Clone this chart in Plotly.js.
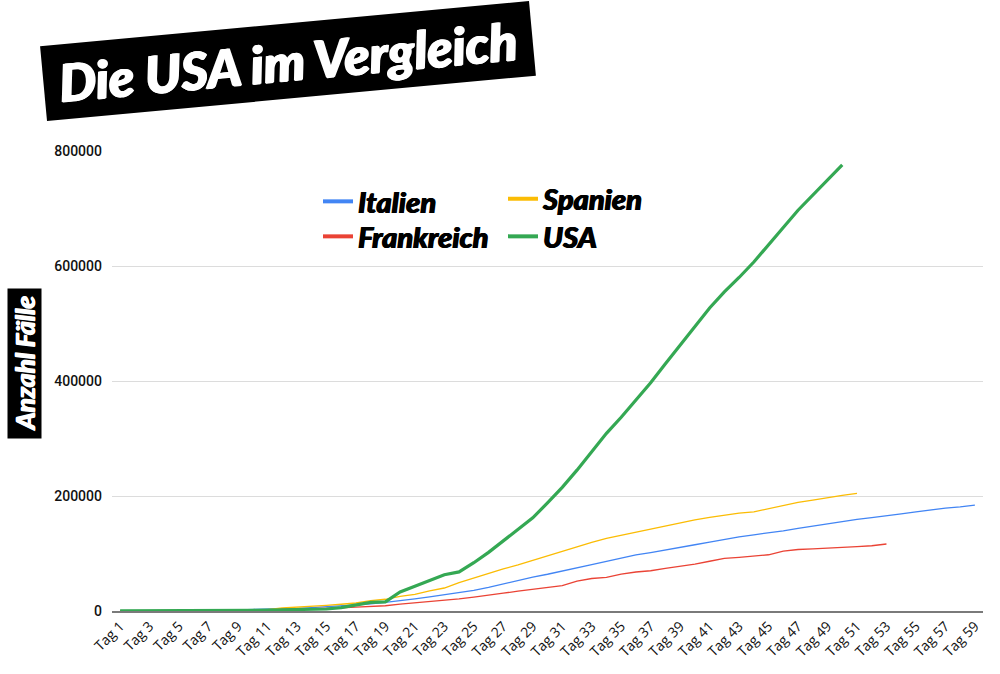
<!DOCTYPE html>
<html>
<head>
<meta charset="utf-8">
<script src="https://cdn.plot.ly/plotly-3.0.1.min.js"></script>
<style>
html,body{margin:0;padding:0;background:#fff;}
#chart{width:1000px;height:674px;}
</style>
</head>
<body>
<div id="chart"></div>
<script>
const days = ["Tag 1","Tag 2","Tag 3","Tag 4","Tag 5","Tag 6","Tag 7","Tag 8","Tag 9","Tag 10",
"Tag 11","Tag 12","Tag 13","Tag 14","Tag 15","Tag 16","Tag 17","Tag 18","Tag 19","Tag 20",
"Tag 21","Tag 22","Tag 23","Tag 24","Tag 25","Tag 26","Tag 27","Tag 28","Tag 29","Tag 30",
"Tag 31","Tag 32","Tag 33","Tag 34","Tag 35","Tag 36","Tag 37","Tag 38","Tag 39","Tag 40",
"Tag 41","Tag 42","Tag 43","Tag 44","Tag 45","Tag 46","Tag 47","Tag 48","Tag 49","Tag 50",
"Tag 51","Tag 52","Tag 53","Tag 54","Tag 55","Tag 56","Tag 57","Tag 58","Tag 59"];

const italien = [150,230,320,450,650,890,1130,1690,2040,2500,
3090,3860,4640,5880,7380,9170,10150,12460,15110,17660,
21160,24750,28000,31500,35700,41000,47000,53600,59100,63900,
69200,74400,80600,86500,92500,97700,101700,105800,110600,115200,
119800,124600,128900,132500,135600,139400,143600,147600,152300,156400,
159500,162500,165200,168900,172400,175900,179000,181200,184000];

const spanien = [120,165,220,260,400,500,670,1070,1700,2280,
2280,5230,6390,7800,9940,11750,13900,17960,20400,25400,
28800,35100,40000,49500,57800,65700,73200,80100,88000,96000,
104100,112100,119200,126200,131600,136700,141900,148200,153200,158300,
163000,166800,170100,172500,178000,184000,189000,193000,197500,201000,
204500];

const frankreich = [100,130,190,210,290,420,610,720,1130,1410,
1780,2280,2880,3660,4500,5420,6630,7730,9100,12000,
14000,16000,18500,21000,24000,27000,31000,34500,37700,40500,
44000,52000,56500,58600,64000,67800,70000,74000,77500,81500,
86500,91600,93400,95500,97800,104000,107000,108000,109000,110800,
112000,113500,116500];

const usa = [100,120,160,220,320,430,540,700,1000,1300,
1700,2200,2500,3000,3500,6000,10000,15000,16000,33000,
43000,53000,63000,68000,84000,102000,122000,141000,162000,188000,
215000,245000,278000,309000,337000,366000,397000,430000,463000,496000,
527000,555000,580000,607000,636000,667000,697000,724000,750000,776000];

const seriesNames = ["Italien","Spanien","Frankreich","USA"];
const seriesColors = ["#4285F4","#FBBC04","#EA4335","#34A853"];

const thick = 3.2, thin = 1.3;
const dataSeries = [italien, spanien, frankreich, usa];
const legendOf = ["legend","legend2","legend3","legend4"];

const traces = [];
dataSeries.forEach((vals, i) => {
  traces.push({
    type: "scatter", mode: "lines",
    x: days.slice(0, vals.length), y: vals,
    name: seriesNames[i],
    line: {color: seriesColors[i], width: i === 3 ? thick : thin},
    showlegend: false, hoverinfo: "skip"
  });
});
// legend entries (thick samples as in the reference)
dataSeries.forEach((vals, i) => {
  traces.push({
    type: "scatter", mode: "lines",
    x: [null], y: [null],
    name: seriesNames[i],
    line: {color: seriesColors[i], width: 4},
    showlegend: true, legend: legendOf[i], hoverinfo: "skip"
  });
});

const heavy = "Lato, 'Liberation Sans', sans-serif";

const L = 112, R = 17, T = 151, B = 63;
const W = 1000, H = 674;
const pw = W - L - R, ph = H - T - B;
const px2x = p => (p - L) / pw;
const py2y = p => (H - B - p) / ph;

const legendFont = {family: heavy, size: 29, color: "#000", weight: 900, style: "italic",
  shadow: "0.6px 0 0 #000, -0.6px 0 0 #000"};
function mkLegend(px, py) {
  return {
    x: px2x(px), y: py2y(py), xanchor: "left", yanchor: "middle",
    orientation: "v", bgcolor: "rgba(0,0,0,0)", borderwidth: 0,
    itemwidth: 30, tracegroupgap: 0, font: legendFont
  };
}

const layout = {
  width: W, height: H,
  margin: {l: L, r: R, t: T, b: B, pad: 0},
  paper_bgcolor: "#fff", plot_bgcolor: "#fff",
  showlegend: true,
  xaxis: {
    type: "category",
    categoryorder: "array", categoryarray: days,
    range: [-0.55, 58.55],
    tick0: 0, dtick: 2,
    tickangle: -45,
    showgrid: false,
    showline: true, linecolor: "#7a7a7a", linewidth: 1.5,
    ticks: "",
    tickfont: {family: "'Open Sans', 'Noto Sans', sans-serif", size: 14, color: "#111"},
    automargin: false, fixedrange: true
  },
  yaxis: {
    range: [0, 800000],
    tickvals: [0, 200000, 400000, 600000, 800000],
    tickformat: "d",
    showgrid: true, gridcolor: "#dcdcdc", gridwidth: 1,
    zeroline: false, showline: false,
    ticks: "", ticklabelstandoff: 9,
    tickfont: {family: "Roboto, 'Liberation Sans', sans-serif", size: 14, color: "#111", weight: 500},
    automargin: false, fixedrange: true
  },
  legend: mkLegend(318, 201.5),
  legend2: mkLegend(503, 199),
  legend3: mkLegend(318, 236.5),
  legend4: mkLegend(503, 236.5),
  annotations: [
    {
      text: "Die USA im Vergleich",
      xref: "paper", yref: "paper",
      x: px2x(288), y: py2y(61),
      xanchor: "center", yanchor: "middle",
      showarrow: false, textangle: -5.3,
      width: 482, height: 66, borderpad: 4,
      bgcolor: "#000",
      font: {family: heavy, size: 52, color: "#fff", weight: 900, style: "italic",
        shadow: "1px 0 0 #fff, -1px 0 0 #fff, 0 0.6px 0 #fff"}
    },
    {
      text: "Anzahl Fälle",
      xref: "paper", yref: "paper",
      x: px2x(24), y: py2y(364),
      xanchor: "center", yanchor: "middle",
      showarrow: false, textangle: -90,
      width: 145, height: 29, borderpad: 2,
      bgcolor: "#000",
      font: {family: heavy, size: 26, color: "#fff", weight: 900, style: "italic",
        shadow: "0.6px 0 0 #fff, -0.6px 0 0 #fff"}
    }
  ]
};

Plotly.newPlot("chart", traces, layout, {staticPlot: true, displayModeBar: false});
</script>
</body>
</html>
